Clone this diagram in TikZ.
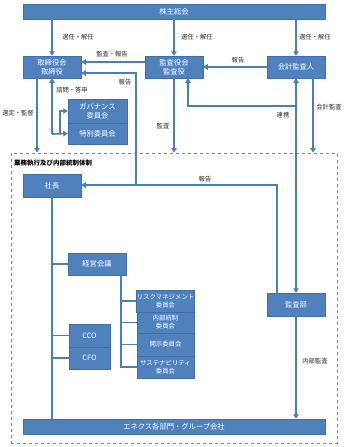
\documentclass[tikz,border=0pt]{standalone}
\usepackage{fontspec}
\setmainfont{Noto Sans CJK JP}
\usetikzlibrary{arrows.meta}
\definecolor{boxblue}{HTML}{4F81BD}
\definecolor{boxedge}{HTML}{3F6FA8}
\definecolor{lineblue}{HTML}{4A7EBB}
\tikzset{
  box/.style={fill=boxblue,draw=boxedge,line width=0.5pt,text=white,inner sep=0pt,align=center,font=\fontsize{7.3}{8.6}\selectfont},
  sbox/.style={box,font=\fontsize{6.4}{8}\selectfont},
  lbl/.style={text=black!85,inner sep=0pt,font=\fontsize{6.3}{7.5}\selectfont},
  ln/.style={draw=lineblue,line width=1.6pt},
  arr/.style={ln,-{Triangle[width=5.5pt,length=4.5pt]}},
  arrb/.style={ln,{Triangle[width=5.5pt,length=4.5pt]}-{Triangle[width=5.5pt,length=4.5pt]}},
  frame/.style={draw=black!50,dashed,line width=0.8pt,inner sep=0pt}
}
\begin{document}
\begin{tikzpicture}[x=1pt,y=-1pt]
\useasboundingbox (0,0) rectangle (347,447);
% frame
\node[frame,minimum width=326pt,minimum height=290pt] (fr) at (174,298) {};
\node[anchor=west,inner sep=0pt,font=\fontsize{6.5}{7.5}\selectfont\bfseries] (title) at (14,163) {業務執行及び内部統制体制};
% boxes
\node[box,minimum width=302pt,minimum height=15pt] (sh) at (174,11.5) {株主総会};
\node[box,minimum width=58pt,minimum height=22pt] (tk) at (52,67) {取締役会\\取締役};
\node[box,minimum width=58pt,minimum height=22pt] (ks) at (174,67) {監査役会\\監査役};
\node[box,minimum width=58pt,minimum height=22pt] (kk) at (296,67) {会計監査人};
\node[box,minimum width=59pt,minimum height=24pt] (gov) at (97.5,111) {ガバナンス\\委員会};
\node[box,minimum width=59pt,minimum height=21pt] (tok) at (97.5,133.5) {特別委員会};
\node[box,minimum width=58pt,minimum height=23pt] (sy) at (52,185.5) {社長};
\node[box,minimum width=58pt,minimum height=22pt] (kei) at (97,264) {経営会議};
\node[box,minimum width=41pt,minimum height=23pt] (cco) at (89.5,335.5) {CCO};
\node[box,minimum width=41pt,minimum height=22pt] (cfo) at (89.5,358) {CFO};
\node[sbox,minimum width=57pt,minimum height=22pt] (risk) at (165.5,301) {リスクマネジメント\\委員会};
\node[sbox,minimum width=57pt,minimum height=21pt] (naibu) at (165.5,322.5) {内部統制\\委員会};
\node[sbox,minimum width=57pt,minimum height=23pt] (kaiji) at (165.5,344.5) {開示委員会};
\node[sbox,minimum width=57pt,minimum height=22pt] (sus) at (165.5,367) {サステナビリティ\\委員会};
\node[box,minimum width=58pt,minimum height=23pt] (kb) at (296,304.5) {監査部};
\node[box,minimum width=302pt,minimum height=15pt] (en) at (174,426.5) {エネクス各部門・グループ会社};
% shareholders
\draw[arr] (sh.south -| tk) -- (tk.north);
\draw[arr] (sh.south -| ks) -- (ks.north);
\draw[arr] (sh.south -| kk) -- (kk.north);
\node[lbl] (l1) at (78,37) {選任・解任};
\node[lbl] (l2) at (197,37) {選任・解任};
\node[lbl] (l3) at (315,37) {選任・解任};
% auditors
\draw[arr] ([yshift=5pt]ks.west) -- ([yshift=5pt]tk.east);
\node[lbl] (l4) at (112,54) {監査・報告};
\draw[arr] (kk.west) -- (ks.west -| ks.east);
\node[lbl] (l5) at (238,60) {報告};
% internal audit reports
\coordinate (rj) at (136,185);
\coordinate (rt) at (136,73);
\draw[arr] ([xshift=-19pt]kb.north) -- ([xshift=-19pt]kb.north |- rj) -- (sy.east |- rj);
\draw[arr] (rj) -- (rt) -- (tk.east |- rt);
\node[lbl] (l6) at (125,82) {報告};
\node[lbl] (l7) at (205,179) {報告};
% down to frame
\draw[arr] (ks.south) -- (ks.south |- fr.north);
\node[lbl] (l8) at (163,126) {監査};
\draw[arr] ([xshift=17pt]kk.south) -- ([xshift=17pt]kk.south |- fr.north);
\node[lbl] (l9) at (329,107) {会計監査};
\draw[arr] ([xshift=-15pt]tk.south) -- ([xshift=-15pt]tk.south |- fr.north);
\node[lbl] (l10) at (18,113) {選定・監督};
% cooperation
\draw[arrb] (kk.south) -- (kb.north);
\coordinate (cj) at (296,106);
\draw[arr] (cj) -- ([xshift=14pt]ks.south |- cj) -- ([xshift=14pt]ks.south);
\node[lbl] (l11) at (283,115) {連携};
% advisory
\coordinate (aj) at (52,134);
\draw[arr] (aj) -- (tk.south);
\draw[arr] (aj) -- (tok.west);
\draw[arr] (60,134) -- (60,111) -- (gov.west);
\node[lbl] (l12) at (72,90) {諮問・答申};
% president tree
\draw[ln] (sy.south) -- (sy.south |- en.north);
\draw[ln] (sy.south |- kei.west) -- (kei.west);
\draw[ln] (sy.south |- cco.west) -- (cco.west);
\draw[ln] (sy.south |- cfo.west) -- (cfo.west);
% committee tree
\coordinate (kx) at ([xshift=24pt]kei.south);
\draw[ln] (kx) -- (kx |- sus.west) -- (sus.west);
\draw[ln] (kx |- risk.west) -- (risk.west);
\draw[ln] (kx |- naibu.west) -- (naibu.west);
\draw[ln] (kx |- kaiji.west) -- (kaiji.west);
% internal audit
\draw[arr] (kb.south) -- (kb.south |- en.north);
\node[lbl] (l13) at (315,361) {内部監査};
\end{tikzpicture}
\end{document}
